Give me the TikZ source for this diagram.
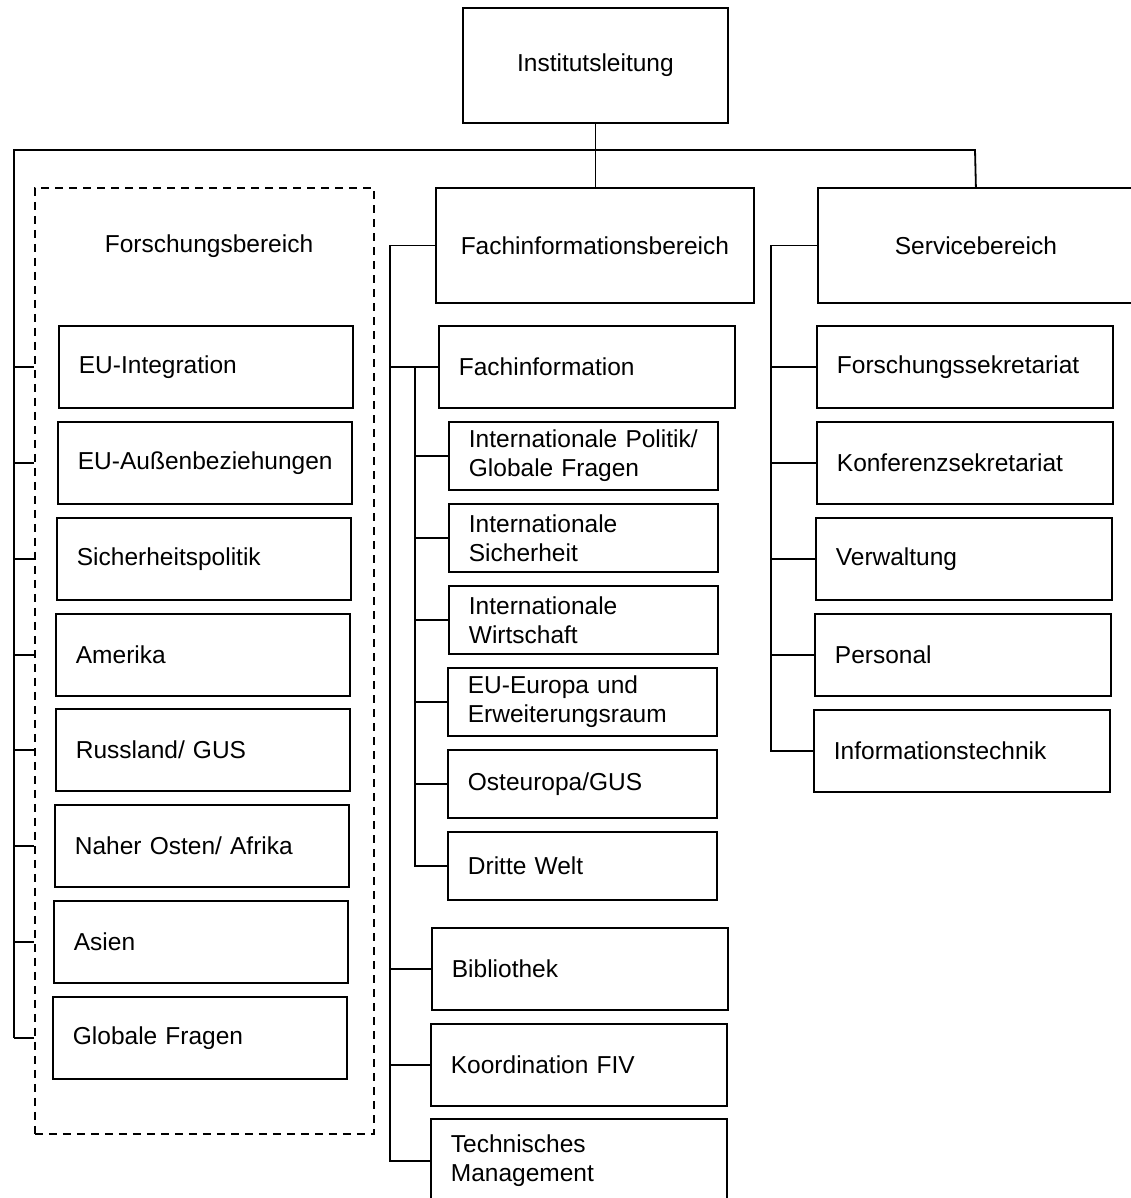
\documentclass[tikz,border=0pt]{standalone}
\usepackage{fontspec}
\setmainfont{Liberation Sans}
\begin{document}
\begin{tikzpicture}[x=1pt,y=-1pt,
  every node/.style={font=\fontsize{24.5}{29}\selectfont},
  box/.style={draw, line width=1.8pt, anchor=north west, inner xsep=20pt, inner ysep=0pt, align=left, minimum height=82pt},
  lbox/.style={box, text width=254pt},
  sbox/.style={box, text width=229pt, minimum height=68pt},
  midbox/.style={box, text width=256pt},
  bigbox/.style={draw, line width=1.8pt, anchor=north west, align=center, minimum height=115pt, inner sep=0pt},
  conn/.style={line width=1.8pt},
  dashbox/.style={draw, line width=1.8pt, dash pattern=on 8pt off 6pt, anchor=north west, inner sep=0pt},
]
\path[use as bounding box, clip] (0,0) rectangle (1131,1198);

% top level
\node[bigbox, minimum width=265pt] (inst) at (462,7) {Institutsleitung};
\node[bigbox, minimum width=318pt] (fib) at (435,187) {Fachinformationsbereich};
\node[bigbox, minimum width=316pt] (serv) at (817,187) {Servicebereich};

% Forschungsbereich
\node[dashbox, minimum width=339pt, minimum height=946pt] (fb) at (34,187) {};
\node (fbl) at (209,246) {Forschungsbereich};
\node[lbox] (l1) at (58,325) {EU-Integration};
\node[lbox] (l2) at (57,421) {\mbox{EU-Außenbeziehungen}};
\node[lbox] (l3) at (56,517) {Sicherheitspolitik};
\node[lbox] (l4) at (55,613) {Amerika};
\node[lbox] (l5) at (55,708) {Russland/ GUS};
\node[lbox] (l6) at (54,804) {Naher Osten/ Afrika};
\node[lbox] (l7) at (53,900) {Asien};
\node[lbox] (l8) at (52,996) {Globale Fragen};

% Fachinformationsbereich
\node[midbox] (fi) at (438,325) {Fachinformation};
\node[sbox] (s1) at (448,421) {\mbox{Internationale Politik/}\\\mbox{Globale Fragen}};
\node[sbox] (s2) at (448,503) {Internationale\\Sicherheit};
\node[sbox] (s3) at (448,585) {Internationale\\Wirtschaft};
\node[sbox] (s4) at (447,667) {\mbox{EU-Europa und}\\\mbox{Erweiterungsraum}};
\node[sbox] (s5) at (447,749) {Osteuropa/GUS};
\node[sbox] (s6) at (447,831) {Dritte Welt};
\node[midbox] (bib) at (431,927) {Bibliothek};
\node[midbox] (koord) at (430,1023) {Koordination FIV};
\node[midbox, minimum height=84pt] (tm) at (430,1118) {Technisches\\Management};

% Servicebereich
\node[midbox] (r1) at (816,325) {Forschungssekretariat};
\node[midbox] (r2) at (816,421) {Konferenzsekretariat};
\node[midbox] (r3) at (815,517) {Verwaltung};
\node[midbox] (r4) at (814,613) {Personal};
\node[midbox] (r5) at (813,709) {Informationstechnik};

% connectors
\coordinate (busL) at (14,150);
\coordinate (busR) at (975,150);
\draw[conn] (inst.south) -- (inst.south |- fib.north);
\draw[conn] (l8.west -| busL) -- (busL) -- (busR) -- (serv.north);
\foreach \n in {l1,l2,l3,l4,l5,l6,l7,l8}
  \draw[conn] (\n.west -| busL) -- (\n.west -| fb.west);

\coordinate (mv) at (390,0);
\draw[conn] (fib.west) -- (fib.west -| mv) -- (tm.west -| mv) -- (tm.west);
\foreach \n in {fi,bib,koord}
  \draw[conn] (\n.west -| mv) -- (\n.west);

\coordinate (iv) at (415,0);
\draw[conn] (fi.west -| iv) -- (s6.west -| iv) -- (s6.west);
\foreach \n in {s1,s2,s3,s4,s5}
  \draw[conn] (\n.west -| iv) -- (\n.west);

\coordinate (rv) at (771,0);
\draw[conn] (serv.west) -- (serv.west -| rv) -- (r5.west -| rv) -- (r5.west);
\foreach \n in {r1,r2,r3,r4}
  \draw[conn] (\n.west -| rv) -- (\n.west);
\end{tikzpicture}
\end{document}
